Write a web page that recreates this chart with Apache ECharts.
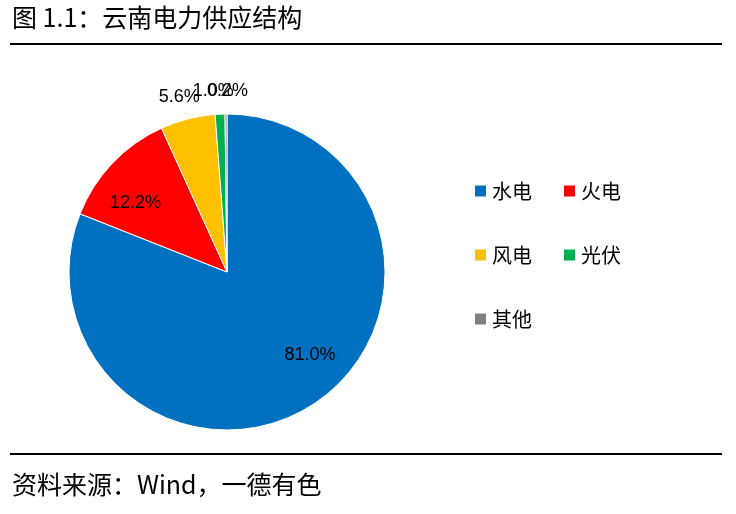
<!DOCTYPE html>
<html><head><meta charset="utf-8">
<script src="https://cdn.jsdelivr.net/npm/echarts@6/dist/echarts.min.js"></script>
<style>html,body{margin:0;padding:0;background:#fff}#c{width:736px;height:514px}</style>
</head><body><div id="c"></div>
<script>
var categories = ['水电','火电','风电','光伏','其他'];
var values = [81.0, 12.2, 5.6, 1.0, 0.2];
var colors = ['#0070C0','#FF0000','#FFC000','#00B050','#7F7F7F'];
var titleText = '图 1.1：云南电力供应结构';
var sourceText = '资料来源：Wind，一德有色';
var font = '"Liberation Sans","Noto Sans CJK SC",sans-serif';
var inside = [true, true, false, false, false];
var offsets = [[37,15],[-32,-12],[13,-18],[14,-19],[22,-19]];
var chart = echarts.init(document.getElementById('c'));
var data = categories.map(function(n,i){
  return {name:n, value:values[i], itemStyle:{color:colors[i]},
    label: {position: inside[i] ? 'inside' : 'outside', offset: offsets[i]}};
});
function lg(names, top){
  return {data:names, left:468, top:top, orient:'horizontal', itemWidth:13, itemHeight:13, itemGap:30, icon:'rect',
    textStyle:{fontSize:20, color:'#000', fontFamily:'"Noto Sans CJK SC",sans-serif'}};
}
chart.setOption({
  animation:false,
  graphic:[
    {type:'text', left:12, top:5, style:{text:titleText, fontSize:25, fill:'#000', fontFamily:'"Noto Sans CJK SC",sans-serif'}},
    {type:'rect', shape:{x:10,y:43,width:712,height:2}, style:{fill:'#000'}},
    {type:'rect', shape:{x:10,y:453,width:712,height:2}, style:{fill:'#000'}},
    {type:'text', left:12, top:472, style:{text:sourceText, fontSize:25, fill:'#000', fontFamily:'"Noto Sans CJK SC",sans-serif'}}
  ],
  legend:[lg(['水电','火电'],176), lg(['风电','光伏'],240), lg(['其他'],304)],
  series:[{
    type:'pie', center:[227,272], radius:[0,158], startAngle:90, clockwise:true,
    data:data,
    label:{formatter:function(p){return p.value.toFixed(1)+'%';}, fontSize:18, color:'#000', fontFamily:font, distanceToLabelLine:0},
    labelLine:{show:false, length:4, length2:0},
    labelLayout:{hideOverlap:false, moveOverlap:false},
    avoidLabelOverlap:false,
    itemStyle:{borderColor:'#fff', borderWidth:1}
  }]
});
</script></body></html>
